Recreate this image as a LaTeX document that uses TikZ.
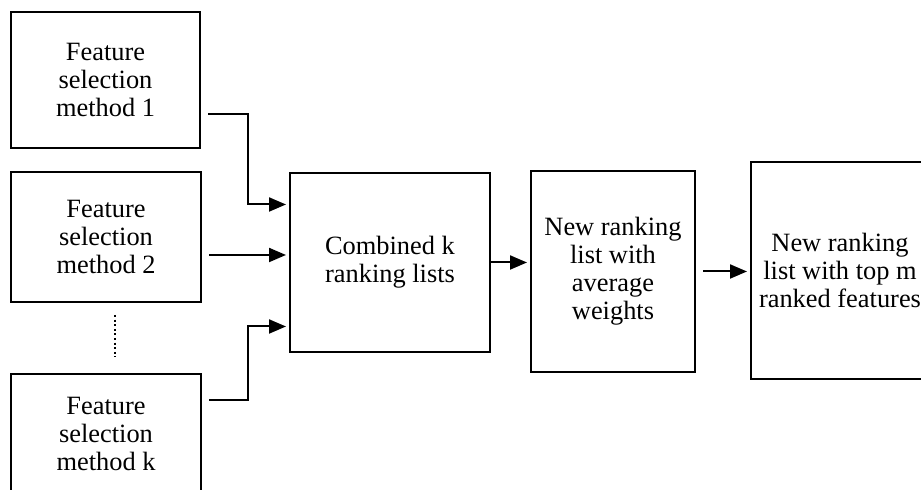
\documentclass[tikz,border=0pt]{standalone}
\usepackage{fontspec}
\setmainfont{Liberation Serif}
\usepackage{tikz}
\usetikzlibrary{arrows.meta}

\tikzset{
  box/.style = {rectangle,
      draw = black,
      line width = 1pt,
      align = center,
      font = \fontsize{13.2}{14}\selectfont},
  arr/.style = {-{Triangle[length=8.5pt,width=7pt]},
      line width = 1pt,
      shorten < = 3.5pt,
      shorten > = 1.5pt}
}

\begin{document}
\begin{tikzpicture}[x=0.5pt,y=0.5pt]
\useasboundingbox (0,0) rectangle (921,490);
\clip (0,0) rectangle (921,490);

% feature selection methods
  \node[box,
      minimum width = 94.5pt,
      minimum height = 68pt] (m1) at (105.5,410) {Feature\\selection\\method 1};

  \node[box,
      minimum width = 95pt,
      minimum height = 65pt] (m2) at (106,253) {Feature\\selection\\method 2};

  \node[box,
      minimum width = 95pt,
      minimum height = 60pt] (mk) at (106,56) {Feature\\selection\\method k};

\draw[line width = 1.2pt, dash pattern = on 1pt off 1.3pt] (115,175) -- (115,133); % dots between methods

% combining the lists
  \node[box,
      minimum width = 100pt,
      minimum height = 89.5pt] (comb) at (390,227.5) {Combined k\\ranking lists};

  \node[box,
      minimum width = 82pt,
      minimum height = 100.5pt] (avg) at (613,218.5) {New ranking\\list with\\average\\weights};

  \node[box,
      minimum width = 89pt,
      minimum height = 108.5pt] (top) at (840,219.5) {New ranking\\list with top m\\ranked features};

% arrows
\draw[arr] ([yshift=-17pt]m1.east) -- ++(47,0) |- ([yshift=29pt]comb.west);
\draw[arr] ([yshift=-9pt]m2.east) -- ([yshift=-9pt]m2.east -| comb.west);
\draw[arr] ([yshift=17pt]mk.east) -- ++(46,0) |- ([yshift=-32pt]comb.west);
\draw[arr, shorten < = 0pt] (comb.east) -- (comb.east -| avg.west);
\draw[arr, shorten < = 3.5pt] (avg.east) -- (avg.east -| top.west);
\end{tikzpicture}
\end{document}
